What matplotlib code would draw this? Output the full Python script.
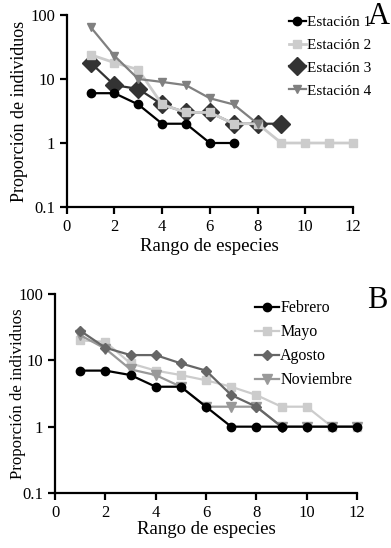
import matplotlib.pyplot as plt

plt.rcParams['font.family'] = ['Liberation Serif', 'DejaVu Serif']

# panel A: estaciones
est1_x = [1, 2, 3, 4, 5, 6, 7]
est1_y = [6, 6, 4, 2, 2, 1, 1]
est2_x = [1, 2, 3, 4, 5, 6, 7, 8, 9, 10, 11, 12]
est2_y = [24, 18, 14, 4, 3, 3, 2, 2, 1, 1, 1, 1]
est3_x = [1, 2, 3, 4, 5, 6, 7, 8, 9]
est3_y = [18, 8, 7, 4, 3, 3, 2, 2, 2]
est4_x = [1, 2, 3, 4, 5, 6, 7, 8]
est4_y = [65, 23, 10, 9, 8, 5, 4, 2]

# panel B: meses
feb_x = [1, 2, 3, 4, 5, 6, 7, 8, 9, 10, 11, 12]
feb_y = [7, 7, 6, 4, 4, 2, 1, 1, 1, 1, 1, 1]
may_x = [1, 2, 3, 4, 5, 6, 7, 8, 9, 10, 11, 12]
may_y = [20, 19, 9, 7, 6, 5, 4, 3, 2, 2, 1, 1]
ago_x = [1, 2, 3, 4, 5, 6, 7, 8, 9]
ago_y = [28, 15.5, 12, 12, 9, 7, 3, 2, 1]
nov_x = [1, 2, 3, 4, 5, 6, 7, 8, 9, 10, 11, 12]
nov_y = [24, 15, 7.3, 6, 4, 2, 2, 2, 1, 1, 1, 1]

xticks = [0, 2, 4, 6, 8, 10, 12]
yticks = [0.1, 1, 10, 100]
yticklabels = ["0.1", "1", "10", "100"]

W, H = 391, 548
fig = plt.figure(figsize=(W / 100, H / 100), dpi=100)


def style_axes(ax, ylab_size):
    ax.set_yscale("log")
    ax.set_xlim(0, 12)
    ax.set_ylim(0.1, 100)
    ax.set_xticks(xticks)
    ax.set_yticks(yticks)
    ax.set_yticklabels(yticklabels)
    ax.minorticks_off()
    ax.spines["top"].set_visible(False)
    ax.spines["right"].set_visible(False)
    ax.spines["left"].set_linewidth(1.6)
    ax.spines["bottom"].set_linewidth(1.6)
    ax.tick_params(width=1.6, length=5, labelsize=12, direction="out")
    ax.set_xlabel("Rango de especies", fontsize=13.5, labelpad=2)
    ax.set_ylabel("Proporción de individuos", fontsize=ylab_size)


# panel A
axA = fig.add_axes([66.7 / W, 1 - 207 / H, (353 - 66.7) / W, (207 - 15) / H])
axA.plot(est1_x, est1_y, color="black", lw=1.6, marker="o", ms=6, label="Estación 1", zorder=4, clip_on=False)
axA.plot(est2_x, est2_y, color="#cccccc", lw=2, marker="s", ms=6, label="Estación 2", zorder=5, clip_on=False)
axA.plot(est3_x, est3_y, color="#333333", lw=1.6, marker="D", ms=9, label="Estación 3", zorder=3, clip_on=False)
axA.plot(est4_x, est4_y, color="#808080", lw=1.6, marker="v", ms=6, label="Estación 4", zorder=6, clip_on=False)
style_axes(axA, 13)
axA.yaxis.set_label_coords(-0.135, 0.5)
axA.legend(loc="upper left", bbox_to_anchor=(0.755, 1.03), frameon=False,
           fontsize=11, handlelength=1.1, handletextpad=0.05, labelspacing=0.6, borderaxespad=0)
fig.text(379 / W, 1 - 17 / H, "A", fontsize=22, ha="center", va="center")

# panel B
axB = fig.add_axes([55 / W, 1 - 493 / H, (357 - 55) / W, (493 - 294) / H])
axB.plot(feb_x, feb_y, color="black", lw=1.6, marker="o", ms=6, label="Febrero", zorder=6, clip_on=False)
axB.plot(may_x, may_y, color="#cccccc", lw=1.6, marker="s", ms=5.5, label="Mayo", zorder=3, clip_on=False)
axB.plot(ago_x, ago_y, color="#666666", lw=1.6, marker="D", ms=5.5, label="Agosto", zorder=5, clip_on=False)
axB.plot(nov_x, nov_y, color="#999999", lw=1.6, marker="v", ms=6.5, label="Noviembre", zorder=4, clip_on=False)
style_axes(axB, 12.2)
axB.yaxis.set_label_coords(-0.095, 0.5)
axB.xaxis.labelpad = 0
axB.legend(loc="upper left", bbox_to_anchor=(0.64, 1.0), frameon=False,
           fontsize=11.5, handlelength=1.5, handletextpad=0.1, labelspacing=0.5, borderaxespad=0)
fig.text(377 / W, 1 - 300 / H, "B", fontsize=22, ha="center", va="center")

fig.savefig("out.png", dpi=100)
